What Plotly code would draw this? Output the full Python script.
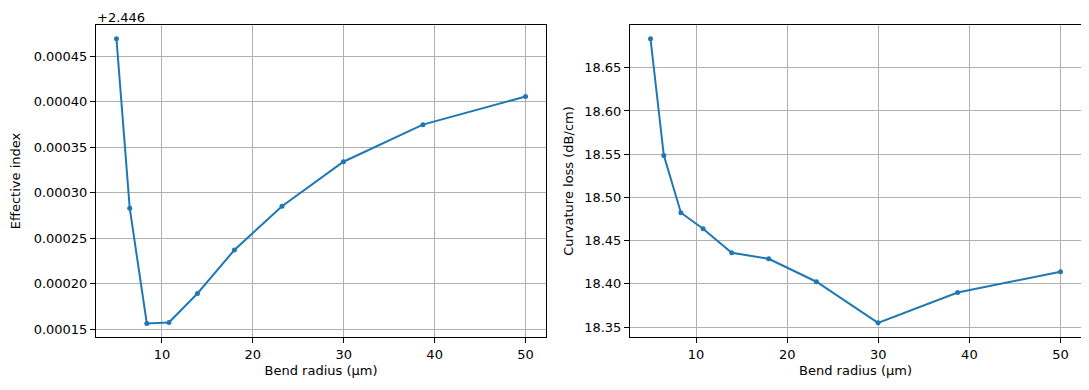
import plotly.graph_objects as go
from plotly.subplots import make_subplots

# Data
bend_radius = [5.0, 6.46, 8.34, 10.77, 13.91, 17.97, 23.21, 29.97, 38.71, 50.0]
effective_index = [2.4464695, 2.4462831, 2.4461563, 2.4461574, 2.4461893,
                   2.4462371, 2.4462853, 2.4463342, 2.4463750, 2.4464059]
index_offset = 2.446
curvature_loss = [18.6835, 18.5486, 18.4823, 18.4638, 18.4360,
                  18.4291, 18.4025, 18.3550, 18.3901, 18.4141]

x_ticks = [10, 20, 30, 40, 50]
left_ticks = [0.00015, 0.00020, 0.00025, 0.00030, 0.00035, 0.00040, 0.00045]
right_ticks = [18.35, 18.40, 18.45, 18.50, 18.55, 18.60, 18.65]

# page body has an 8px margin, so the figure is drawn at (8, 8)
W, H = 1081, 382
ML, MR, MT, MB = 88, 8, 17, 53
IW = W - ML - MR
BLUE = "#1f77b4"
FONT = "DejaVu Sans"

fig = make_subplots(rows=1, cols=2)

fig.add_trace(go.Scatter(
    x=bend_radius, y=[v - index_offset for v in effective_index],
    mode="lines+markers", line=dict(color=BLUE, width=2),
    marker=dict(color=BLUE, size=5), showlegend=False), row=1, col=1)
fig.add_trace(go.Scatter(
    x=bend_radius, y=curvature_loss,
    mode="lines+markers", line=dict(color=BLUE, width=2),
    marker=dict(color=BLUE, size=5), showlegend=False), row=1, col=2)

axis_common = dict(showline=True, mirror=True, linecolor="black", linewidth=1,
                   ticks="outside", ticklen=5, tickcolor="black", tickwidth=1,
                   showgrid=True, gridcolor="#b0b0b0", gridwidth=1, zeroline=False,
                   automargin=False,
                   tickfont=dict(family=FONT, size=13, color="black"))

fig.update_xaxes(**axis_common)
fig.update_yaxes(**axis_common)

tfont = dict(family=FONT, size=13, color="black")
fig.update_layout(
    xaxis=dict(domain=[0, 450 / IW], range=[2.75, 52.25], tickvals=x_ticks,
               title=dict(text="Bend radius (μm)", standoff=5, font=tfont)),
    xaxis2=dict(domain=[534 / IW, 1], range=[2.75, 52.25], tickvals=x_ticks,
                title=dict(text="Bend radius (μm)", standoff=5, font=tfont)),
    yaxis=dict(domain=[0, 1], range=[0.0001414, 0.0004846], tickvals=left_ticks,
               tickformat=".5f",
               title=dict(text="Effective index", standoff=10, font=tfont)),
    yaxis2=dict(domain=[0, 1], range=[18.3386, 18.6994], tickvals=right_ticks,
                tickformat=".2f",
                title=dict(text="Curvature loss (dB/cm)", standoff=7, font=tfont)),
    width=W, height=H,
    margin=dict(l=ML, r=MR, t=MT, b=MB),
    paper_bgcolor="white", plot_bgcolor="white",
    font=dict(family=FONT, size=13, color="black"),
    annotations=[dict(text="+2.446", xref="paper", yref="paper",
                      x=0, y=1, xanchor="left", yanchor="bottom",
                      yshift=-1, borderpad=0, showarrow=False, font=tfont)],
)

fig.write_html("out.html")
